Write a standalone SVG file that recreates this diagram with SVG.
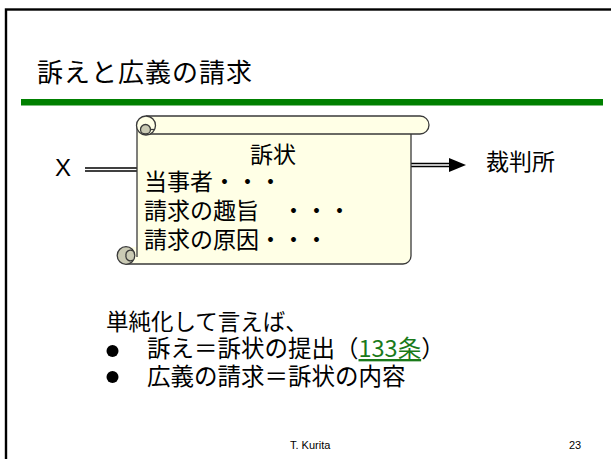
<svg xmlns="http://www.w3.org/2000/svg" width="611" height="459" viewBox="0 0 611 459">
<style>
.jp{font-family:"Noto Sans CJK JP","Noto Sans",sans-serif;fill:#000}
.lat{font-family:"Liberation Sans",Arial,sans-serif;fill:#000}
.scr{fill:#FFFFE6;stroke:none}
.edge{fill:none;stroke:#3a3a3a;stroke-width:1.3}
.curl{fill:#CACAB4;stroke:#3a3a3a;stroke-width:1.3}
</style>
<rect x="0" y="0" width="611" height="459" fill="#fff"/>
<g id="frame">
<rect x="6" y="9.5" width="620" height="470" fill="none" stroke="#000" stroke-width="2.4"/>
<rect x="21" y="99" width="582" height="6.5" fill="#008000"/>
<text class="jp" x="37" y="82" font-size="26" letter-spacing="1">訴えと広義の請求</text>
</g>
<g id="connectors">
<line x1="85" y1="169.5" x2="137" y2="169.5" stroke="#000" stroke-width="4.6"/>
<line x1="84" y1="169.5" x2="137" y2="169.5" stroke="#fff" stroke-width="1.6"/>
<line x1="411" y1="165" x2="452" y2="165" stroke="#000" stroke-width="4.6"/>
<line x1="411" y1="165" x2="451" y2="165" stroke="#fff" stroke-width="1.6"/>
<polygon points="449,158 466,165 449,172" fill="#000"/>
</g>
<g id="node-x">
<text class="lat" x="55" y="176" font-size="24">X</text>
</g>
<g id="node-scroll">
<path class="scr" d="M137,134 H411 V256 A8,8 0 0 1 403,264 H127 V247 H137 Z"/>
<path class="scr" d="M146,116 H420 A9,9 0 0 1 420,134 H137 V125 A9,9 0 0 1 146,116 Z"/>
<path class="edge" d="M146,116 H420 A9,9 0 0 1 420,134 H143"/>
<path class="edge" d="M137,125 V257"/>
<path class="edge" d="M411,134 V256 A8,8 0 0 1 403,264 H126"/>
<circle cx="146" cy="125.5" r="9.5" fill="#FFFFE6" stroke="#3a3a3a" stroke-width="1.3"/>
<path class="curl" d="M140.5,129.5 A5,5 0 0 1 150.5,129.5 A5,4.5 0 0 1 140.5,129.5 Z"/>
<path class="edge" d="M150.5,129.5 H155"/>
<circle class="curl" cx="126" cy="255.5" r="8.8"/>
<path class="edge" d="M133,251 A4.5,4.5 0 0 0 126,255.5 A4.5,4.5 0 0 0 133,260"/>
<text class="jp" x="273" y="163" font-size="23" text-anchor="middle">訴状</text>
<text class="jp" x="144" y="190" font-size="23">当事者・・・</text>
<text class="jp" x="144" y="219" font-size="23">請求の趣旨　・・・</text>
<text class="jp" x="144" y="248" font-size="23">請求の原因・・・</text>
</g>
<g id="node-court">
<text class="jp" x="486" y="170" font-size="23">裁判所</text>
</g>
<g id="summary">
<text class="jp" x="106" y="330" font-size="22.5">単純化して言えば、</text>
<circle cx="112.5" cy="351" r="6" fill="#000"/>
<circle cx="112.5" cy="377" r="6" fill="#000"/>
<text class="jp" x="147" y="357" font-size="23.5">訴え＝訴状の提出（<tspan fill="#1A7A1A" text-decoration="underline">133条</tspan>）</text>
<text class="jp" x="147" y="385" font-size="23.5">広義の請求＝訴状の内容</text>
</g>
<g id="footer">
<text class="lat" x="290" y="449" font-size="11">T. Kurita</text>
<text class="lat" x="569" y="449" font-size="11">23</text>
</g>
</svg>
